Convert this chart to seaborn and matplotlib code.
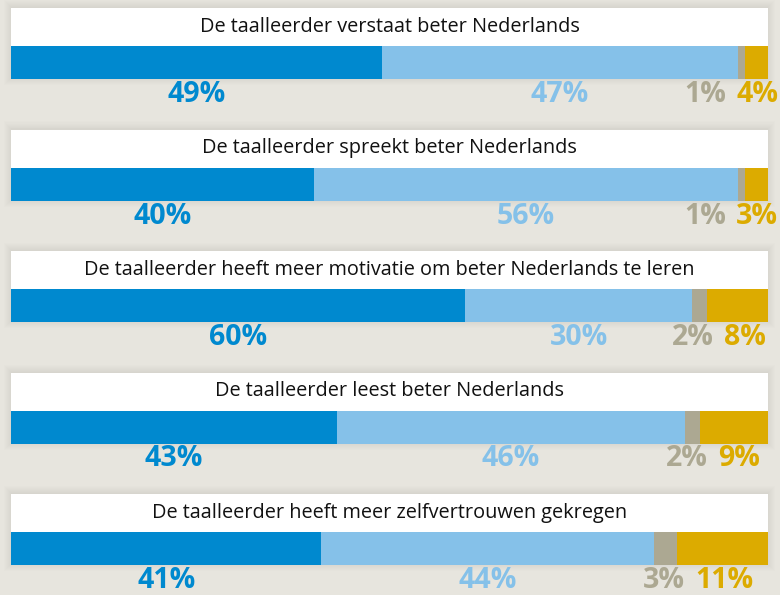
import numpy as np
import matplotlib
matplotlib.use('Agg')
import matplotlib.pyplot as plt
import matplotlib.transforms as mtransforms
from matplotlib.patches import Rectangle
import seaborn as sns

# --- data ---
statements = [
    'De taalleerder verstaat beter Nederlands',
    'De taalleerder spreekt beter Nederlands',
    'De taalleerder heeft meer motivatie om beter Nederlands te leren',
    'De taalleerder leest beter Nederlands',
    'De taalleerder heeft meer zelfvertrouwen gekregen',
]
zeker_wel = [49, 40, 60, 43, 41]
wel = [47, 56, 30, 46, 44]
weet_niet = [1, 1, 2, 2, 3]
niet = [4, 3, 8, 9, 11]

colors = ['#0089cf', '#85c1e9', '#aca892', '#dcab00']
bg = '#e7e5de'

sns.set_theme(style='white')
plt.rcParams['font.family'] = ['Open Sans', 'DejaVu Sans']

W, H = 780, 595
fig = plt.figure(figsize=(7.8, 5.95), dpi=100, facecolor=bg)

left_px, right_px = 11, 768
title_h, bar_h = 38, 33
top0, step = 8, 121.5

rows = list(zip(zeker_wel, wel, weet_niet, niet))
label_sets = []
for i, (stmt, vals) in enumerate(zip(statements, rows)):
    top = top0 + i * step
    bar_top = top + title_h
    bar_bot = bar_top + bar_h
    ax = fig.add_axes([left_px / W, 1 - bar_bot / H, (right_px - left_px) / W, bar_h / H])

    # soft shadow behind the panel
    for k in range(1, 9):
        fig.patches.append(Rectangle(((left_px - k + 1) / W, 1 - (bar_bot + k - 2) / H),
                                     (right_px - left_px + 2 * k - 2) / W, (title_h + bar_h + 2 * k - 2) / H,
                                     transform=fig.transFigure, fc='#5a5548', ec='none',
                                     alpha=0.012, zorder=-5))

    cum = np.cumsum(vals).astype(float)
    cum[-1] = max(cum[-1], 100)   # last segment fills the bar (rounding)
    for k in reversed(range(len(vals))):
        sns.barplot(x=[cum[k]], y=[0], orient='h', color=colors[k], saturation=1,
                    width=1.0, linewidth=0, ax=ax)
    ax.set_xlim(0, 100)
    ax.set_ylim(0.5, -0.5)
    ax.axis('off')

    ax.add_patch(Rectangle((0, 1), 1, title_h / bar_h, transform=ax.transAxes,
                           fc='white', ec='none', clip_on=False, zorder=3))
    ax.text(0.5, 1 + title_h / bar_h / 2, stmt, transform=ax.transAxes, ha='center',
            va='center', fontsize=14.3, color='#111111', zorder=4)

    tr = mtransforms.blended_transform_factory(ax.transData, ax.transAxes)
    texts = []
    starts = np.concatenate([[0], cum[:-1]])
    ends = np.minimum(cum, 100)
    for k, v in enumerate(vals):
        c = (starts[k] + ends[k]) / 2
        t = ax.text(c, -23 / bar_h, f'{v}%', transform=tr, ha='center', va='baseline',
                    fontsize=20.5, fontweight='bold', color=colors[k])
        texts.append(t)
    label_sets.append((ax, texts))

# push overlapping labels apart, keep them inside the figure
fig.canvas.draw()
renderer = fig.canvas.get_renderer()
gap = 10
for ax, texts in label_sets:
    boxes = [t.get_window_extent(renderer) for t in texts]
    centers = [(b.x0 + b.x1) / 2 for b in boxes]
    widths = [b.width for b in boxes]
    for _ in range(20):
        for j in range(len(texts) - 1):
            need = widths[j] / 2 + widths[j + 1] / 2 + gap
            d = centers[j + 1] - centers[j]
            if d < need:
                shift = (need - d) / 2
                centers[j] -= shift
                centers[j + 1] += shift
        over = centers[-1] + widths[-1] / 2 - (W - 2)
        if over > 0:
            centers[-1] -= over
    inv = ax.transData.inverted()
    for t, c in zip(texts, centers):
        t.set_x(inv.transform((c, 0))[0])

fig.savefig('out.png', dpi=100, facecolor=bg)
